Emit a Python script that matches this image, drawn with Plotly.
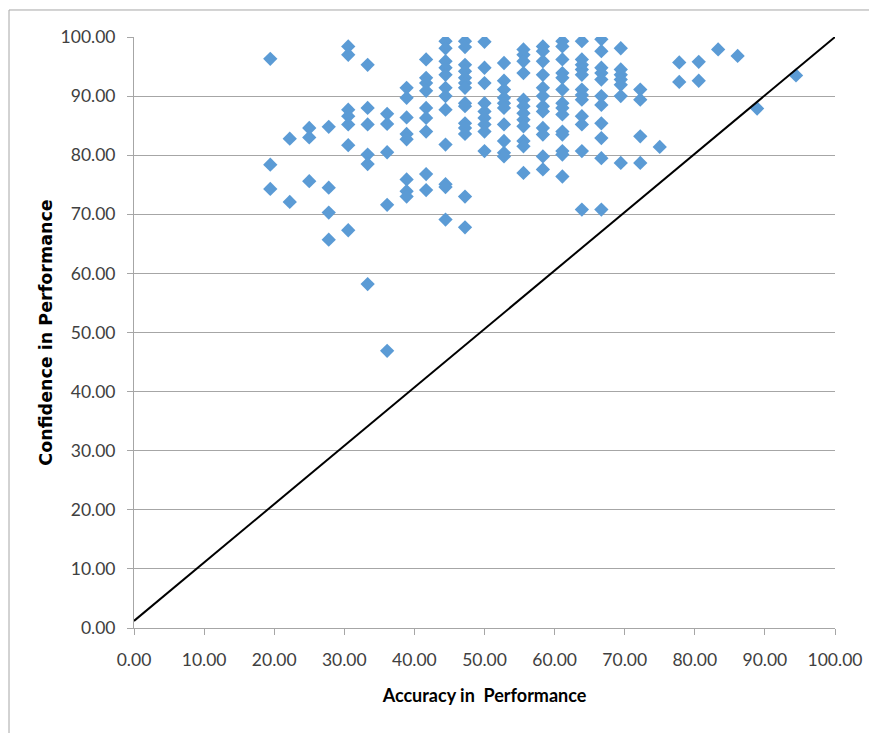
import plotly.graph_objects as go

# Accuracy columns (k/36 * 100) and confidence values
acc_levels = [19.44, 22.22, 25.00, 27.78, 30.56, 33.33, 36.11, 38.89, 41.67, 44.44,
              47.22, 50.00, 52.78, 55.56, 58.33, 61.11, 63.89, 66.67, 69.44, 72.22,
              75.00, 77.78, 80.56, 83.33, 86.11, 88.89, 94.44]

conf_by_level = [
    [96.3, 78.4, 74.3],
    [82.8, 72.1],
    [84.6, 83.0, 75.6],
    [84.8, 74.5, 70.3, 65.7],
    [98.4, 97.0, 87.7, 86.6, 85.2, 81.7, 67.3],
    [95.3, 88.0, 85.2, 80.1, 78.5, 58.2],
    [87.0, 85.3, 80.5, 71.6, 46.9],
    [91.4, 89.7, 86.4, 83.6, 82.7, 75.9, 73.9, 73.0],
    [96.2, 93.1, 92.2, 90.9, 88.0, 86.3, 84.0, 76.8, 74.1],
    [99.3, 98.1, 95.9, 94.8, 93.6, 91.4, 90.0, 87.7, 81.8, 75.1, 74.6, 69.1],
    [99.3, 98.3, 95.3, 94.2, 93.1, 92.2, 91.4, 88.8, 88.3, 85.4, 84.6, 83.6, 73.0, 67.8],
    [99.2, 94.8, 92.2, 88.8, 87.4, 86.3, 85.2, 84.0, 80.7],
    [95.6, 92.6, 91.1, 89.7, 88.8, 88.0, 85.2, 82.4, 80.4, 79.8],
    [97.9, 97.0, 95.9, 93.9, 89.4, 88.3, 87.1, 86.0, 84.9, 82.4, 81.5, 77.0],
    [98.4, 97.6, 95.9, 93.6, 91.4, 90.0, 88.3, 87.4, 84.6, 83.5, 79.8, 77.6],
    [99.3, 98.4, 96.2, 93.9, 93.1, 91.1, 88.8, 88.0, 86.9, 84.0, 83.5, 80.7, 80.1, 76.4],
    [99.3, 96.2, 95.3, 94.5, 93.6, 91.1, 90.2, 89.4, 86.6, 85.2, 80.7, 70.8],
    [99.6, 97.6, 94.8, 93.9, 92.8, 90.0, 88.5, 85.4, 82.9, 79.5, 70.8],
    [98.1, 94.5, 93.6, 92.8, 91.9, 90.0, 78.7],
    [91.1, 89.4, 83.2, 78.7],
    [81.4],
    [95.7, 92.4],
    [95.8, 92.6],
    [97.9],
    [96.8],
    [87.9],
    [93.5],
]

# Reference diagonal line
line_x = [0, 100]
line_y = [1.2, 100]

tick_vals = [0, 10, 20, 30, 40, 50, 60, 70, 80, 90, 100]
tick_text = [f"{v:.2f}" for v in tick_vals]

accuracy = []
confidence = []
for a, ys in zip(acc_levels, conf_by_level):
    for y in ys:
        accuracy.append(a)
        confidence.append(y)

fig = go.Figure()
fig.add_trace(go.Scatter(
    x=accuracy, y=confidence, mode="markers",
    marker=dict(symbol="diamond", size=11, color="#5B9BD5", line=dict(width=0)),
    showlegend=False, hoverinfo="x+y"))
fig.add_trace(go.Scatter(
    x=line_x, y=line_y, mode="lines",
    line=dict(color="black", width=2), showlegend=False, hoverinfo="skip"))

font_family = "Lato, Carlito, Calibri, sans-serif"

fig.update_layout(
    width=869, height=733,
    margin=dict(l=134, r=34, t=37, b=105),
    paper_bgcolor="white", plot_bgcolor="white",
    font=dict(family=font_family, size=17.5, color="#404040"),
    xaxis=dict(range=[0, 100], tickvals=tick_vals, ticktext=tick_text,
               automargin=False,
               showgrid=False, zeroline=False,
               showline=True, linecolor="#A6A6A6", linewidth=1,
               ticks="outside", ticklen=6, tickcolor="#A6A6A6",
               ticklabelstandoff=10,
               tickfont=dict(family=font_family, size=17.5, color="#404040"),
               title=dict(text="<b>Accuracy in  Performance</b>",
                          font=dict(family=font_family, size=18, color="black"),
                          standoff=20)),
    yaxis=dict(range=[0, 100], tickvals=tick_vals, ticktext=tick_text,
               automargin=False,
               showgrid=True, gridcolor="#A6A6A6", gridwidth=1,
               zeroline=False,
               showline=True, linecolor="#A6A6A6", linewidth=1,
               ticks="outside", ticklen=6, tickcolor="#A6A6A6",
               ticklabelstandoff=8,
               tickfont=dict(family=font_family, size=17.5, color="#404040"),
               title=dict(text="<b>Confidence in Performance</b>",
                          font=dict(family="DejaVu Sans, sans-serif", size=17.5, color="black"),
                          standoff=3)),
    shapes=[dict(type="rect", xref="paper", yref="paper",
                 x0=-0.1783, x1=1.1, y0=-0.3, y1=1.0457,
                 line=dict(color="#A6A6A6", width=1), layer="below")],
)

fig.write_html("out.html",
               config={"displayModeBar": False},
               post_script="document.body.style.margin='0';document.body.style.overflow='hidden';")
